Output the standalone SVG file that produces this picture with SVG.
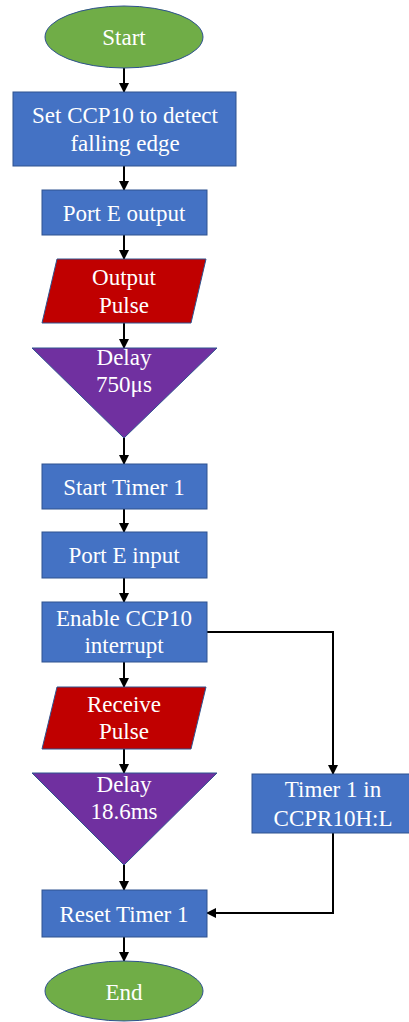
<svg xmlns="http://www.w3.org/2000/svg" width="409" height="1022" viewBox="0 0 409 1022">
<style>
.t{font-family:"Liberation Serif","Times New Roman",serif;font-size:23px;fill:#fff;text-anchor:middle}
.sh{stroke:#2F528F;stroke-width:1}
.g{fill:#70AD47}.b{fill:#4472C4}.r{fill:#C00000}.p{fill:#7030A0}
.c{fill:none;stroke:#000;stroke-width:2;marker-end:url(#ah)}
</style>
<defs>
<marker id="ah" viewBox="0 0 10 10" refX="9" refY="5" markerWidth="5" markerHeight="5" orient="auto" markerUnits="strokeWidth">
<path d="M0,0 L10,5 L0,10 z" fill="#000"/>
</marker>
</defs>
<rect width="409" height="1022" fill="#fff"/>
<g id="connectors">
<path class="c" d="M124,68 V92"/>
<path class="c" d="M124,166 V190"/>
<path class="c" d="M124,235 V259"/>
<path class="c" d="M124,323 V348"/>
<path class="c" d="M124,438 V464"/>
<path class="c" d="M124,509 V532"/>
<path class="c" d="M124,578 V602"/>
<path class="c" d="M124,662 V687"/>
<path class="c" d="M124,749 V773"/>
<path class="c" d="M124,865 V890"/>
<path class="c" d="M124,937 V961"/>
<path class="c" d="M207,632 H333 V774"/>
<path class="c" d="M333,833 V913 H207"/>
</g>
<g id="start">
<ellipse class="g sh" cx="124" cy="37" rx="79" ry="31"/>
<text class="t" x="124" y="45">Start</text>
</g>
<g id="set-ccp10">
<rect class="b sh" x="13" y="92" width="223" height="74"/>
<text class="t" x="125" y="123">Set CCP10 to detect</text>
<text class="t" x="125" y="151">falling edge</text>
</g>
<g id="port-e-output">
<rect class="b sh" x="42" y="190" width="165" height="45"/>
<text class="t" x="124" y="221">Port E output</text>
</g>
<g id="output-pulse">
<polygon class="r sh" points="57,259 206,259 191,323 42,323"/>
<text class="t" x="124" y="285">Output</text>
<text class="t" x="124" y="313">Pulse</text>
</g>
<g id="delay-750">
<polygon class="p sh" points="32,348 217,348 124,438"/>
<text class="t" x="124" y="365">Delay</text>
<text class="t" x="124" y="392">750μs</text>
</g>
<g id="start-timer">
<rect class="b sh" x="42" y="464" width="165" height="45"/>
<text class="t" x="124" y="495">Start Timer 1</text>
</g>
<g id="port-e-input">
<rect class="b sh" x="42" y="532" width="165" height="46"/>
<text class="t" x="124" y="563">Port E input</text>
</g>
<g id="enable-ccp10">
<rect class="b sh" x="42" y="602" width="165" height="60"/>
<text class="t" x="124" y="626">Enable CCP10</text>
<text class="t" x="124" y="653">interrupt</text>
</g>
<g id="receive-pulse">
<polygon class="r sh" points="57,687 206,687 191,749 42,749"/>
<text class="t" x="124" y="712">Receive</text>
<text class="t" x="124" y="739">Pulse</text>
</g>
<g id="delay-18">
<polygon class="p sh" points="32,773 217,773 124,865"/>
<text class="t" x="124" y="792">Delay</text>
<text class="t" x="124" y="819">18.6ms</text>
</g>
<g id="timer1-ccpr">
<rect class="b sh" x="252" y="774" width="162" height="59"/>
<text class="t" x="333" y="797">Timer 1 in</text>
<text class="t" x="333" y="826">CCPR10H:L</text>
</g>
<g id="reset-timer">
<rect class="b sh" x="42" y="890" width="165" height="47"/>
<text class="t" x="124" y="922">Reset Timer 1</text>
</g>
<g id="end">
<ellipse class="g sh" cx="124" cy="991" rx="79" ry="30"/>
<text class="t" x="124" y="1000">End</text>
</g>
</svg>
